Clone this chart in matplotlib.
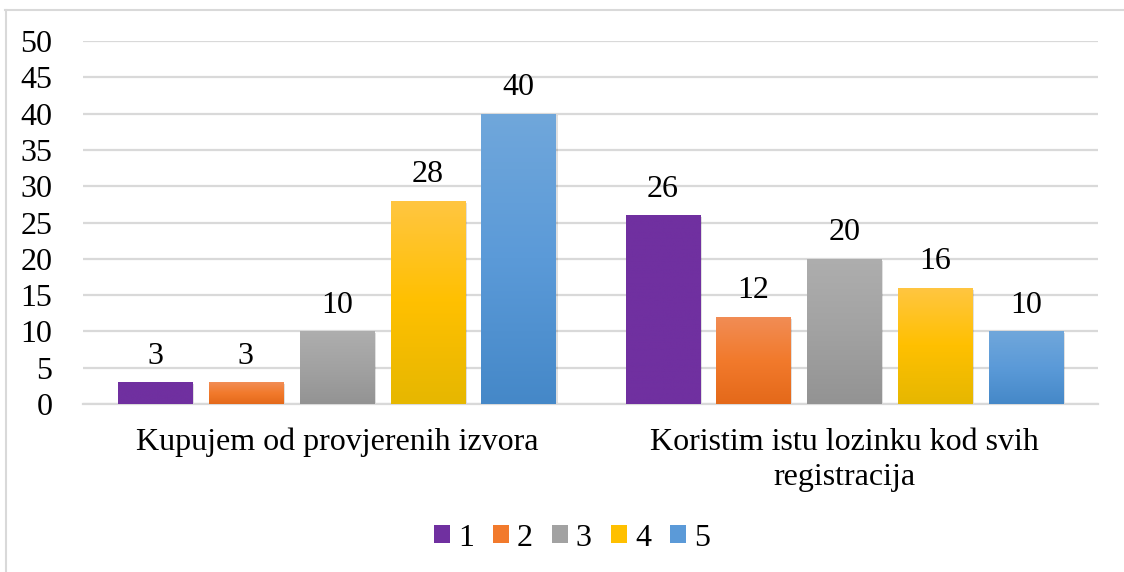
import numpy as np
import matplotlib.pyplot as plt
from matplotlib.colors import LinearSegmentedColormap
from matplotlib.lines import Line2D
from matplotlib.patches import Rectangle

plt.rcParams['font.family'] = ['Liberation Serif', 'DejaVu Serif']

# podaci
categories = ['Kupujem od provjerenih izvora', 'Koristim istu lozinku kod svih\nregistracija']
series_names = ['1', '2', '3', '4', '5']
values_1 = [3, 26]
values_2 = [3, 12]
values_3 = [10, 20]
values_4 = [28, 16]
values_5 = [40, 10]
all_values = [values_1, values_2, values_3, values_4, values_5]

# gradijenti (vrh, sredina, dno)
gradients = [
    ['#7030a0', '#7030a0', '#7030a0'],
    ['#f18d56', '#f27a2c', '#e4691a'],
    ['#aeaeae', '#a2a2a2', '#939393'],
    ['#ffc642', '#ffc000', '#e6b700'],
    ['#70a7db', '#5b9ad8', '#4588c8'],
]

FS = 23

fig = plt.figure(figsize=(11.24, 5.72), dpi=100)
ax = fig.add_axes([83 / 1124, 1 - 404 / 572, 1015 / 1124, 363 / 572])

x = np.arange(len(categories))
width = 0.146
step = 0.179

for i, vals in enumerate(all_values):
    pos = x + (i - 2) * step
    bars = ax.bar(pos, vals, width, color=gradients[i][1], zorder=3)
    cmap = LinearSegmentedColormap.from_list(f'g{i}', gradients[i][::-1])
    grad = np.linspace(0, 1, 256).reshape(-1, 1)
    for b, v in zip(bars, vals):
        # blaga sjena
        sh = Rectangle((b.get_x() + 0.004, 0), width, v - 0.25, facecolor='#000000',
                       alpha=0.12, zorder=2, edgecolor='none')
        ax.add_patch(sh)
        img = ax.imshow(grad, extent=[b.get_x(), b.get_x() + width, 0, v],
                        origin='lower', aspect='auto', cmap=cmap, zorder=3.5)
        img.set_clip_path(b)
        ax.text(b.get_x() + width / 2, v + 1.6, str(v), ha='center', va='bottom',
                fontsize=FS, color='black', zorder=5)

ax.set_xlim(-0.5, 1.5)
ax.set_ylim(0, 50)
ax.set_yticks(range(0, 51, 5))
ax.set_yticklabels([str(t) for t in range(0, 51, 5)], fontsize=FS)
ax.set_xticks(x)
ax.set_xticklabels(categories, fontsize=FS, linespacing=1.3)
ax.tick_params(axis='both', length=0)
ax.tick_params(axis='y', pad=22)
ax.tick_params(axis='x', pad=17)
ax.grid(axis='y', color='#d9d9d9', linewidth=1.6, zorder=0)
for s in ['top', 'right', 'left']:
    ax.spines[s].set_visible(False)
ax.spines['bottom'].set_color('#d9d9d9')
ax.spines['bottom'].set_linewidth(1.6)

handles = [Rectangle((0, 0), 1, 1, facecolor=g[1]) for g in gradients]
fig.legend(handles, series_names, loc='center', bbox_to_anchor=(572 / 1124, 1 - 538 / 572),
           ncol=5, frameon=False, fontsize=FS, handlelength=0.5, handleheight=0.5,
           handletextpad=0.25, columnspacing=0.6)

# okvir grafikona
fig.add_artist(Line2D([5 / 1124, 1.0], [1 - 10 / 572] * 2, transform=fig.transFigure,
                      color='#d9d9d9', linewidth=1.5))
fig.add_artist(Line2D([5.5 / 1124] * 2, [0.0, 1 - 10 / 572], transform=fig.transFigure,
                      color='#d9d9d9', linewidth=1.5))

fig.savefig('out.png', dpi=100)
